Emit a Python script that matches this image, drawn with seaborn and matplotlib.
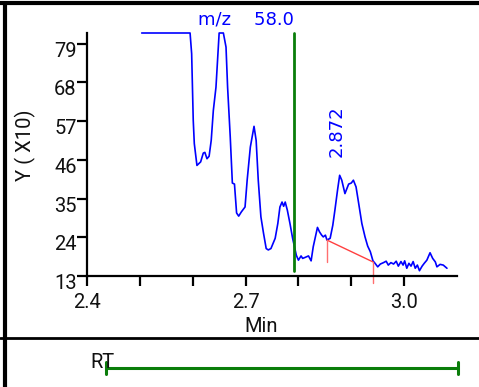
import matplotlib
matplotlib.use("Agg")
import matplotlib.pyplot as plt
import matplotlib.transforms as mtransforms
from matplotlib.lines import Line2D
import seaborn as sns
import pandas as pd
import numpy as np

# trace (retention time in min, intensity in Y x10)
rt = [2.5035, 2.595, 2.598, 2.601, 2.603, 2.608, 2.615, 2.620, 2.623, 2.627,
      2.631, 2.635, 2.639, 2.644, 2.650, 2.658, 2.663, 2.666, 2.671, 2.675,
      2.679, 2.683, 2.687, 2.692, 2.699, 2.703, 2.709, 2.716, 2.720, 2.724,
      2.729, 2.734, 2.739, 2.743, 2.748, 2.756, 2.761, 2.765, 2.769, 2.772,
      2.775, 2.779, 2.784, 2.789, 2.796, 2.800, 2.805, 2.808, 2.813, 2.819,
      2.824, 2.828, 2.836, 2.840, 2.844, 2.847, 2.851, 2.854, 2.860, 2.865,
      2.869, 2.874, 2.878, 2.882, 2.888, 2.895, 2.900, 2.904, 2.909, 2.914,
      2.920, 2.926, 2.931, 2.936, 2.941, 2.945, 2.950, 2.955, 2.961, 2.966,
      2.970, 2.975, 2.980, 2.985, 2.989, 2.994, 2.998, 3.001, 3.005, 3.009,
      3.013, 3.017, 3.021, 3.025, 3.029, 3.034, 3.038, 3.043, 3.049, 3.054,
      3.059, 3.062, 3.068, 3.074, 3.081]
intensity = [82.0, 82.0, 76.1, 57.2, 50.6, 44.4, 45.4, 47.9, 48.1, 46.3,
             47.0, 51.5, 60.0, 66.6, 82.0, 82.0, 78.0, 66.6, 52.5, 39.4,
             39.1, 30.9, 30.0, 31.2, 32.6, 40.2, 49.6, 55.5, 51.5, 40.2,
             29.8, 25.1, 20.8, 20.4, 20.8, 23.7, 27.9, 32.6, 34.0, 32.8,
             34.0, 31.7, 27.9, 23.7, 18.9, 17.5, 18.7, 18.0, 18.3, 18.7,
             17.3, 21.3, 26.8, 25.5, 24.6, 24.1, 24.6, 23.2, 23.7, 27.4,
             31.7, 37.4, 41.6, 40.2, 36.4, 39.1, 39.4, 40.2, 38.3, 33.6,
             27.9, 24.1, 21.5, 19.9, 17.3, 16.6, 15.6, 16.4, 16.8, 17.2,
             16.1, 16.8, 16.4, 17.2, 15.8, 17.1, 16.1, 17.3, 15.2, 16.6,
             15.8, 17.1, 15.2, 16.1, 14.5, 15.8, 16.6, 17.5, 19.6, 18.0,
             17.0, 15.6, 16.3, 16.1, 15.2]

mz_rt = 2.792          # green marker line
mz_label = "m/z    58.0"
peak_rt = 2.872
peak_label_y = 54.1
base_x = [2.854, 2.941]   # integration baseline
base_y = [23.2, 17.0]
base_drop = [17.1, 11.0]
rt_range = [2.436, 3.102]

y_ticks = [13, 24, 35, 46, 57, 68, 79]
x_ticks = [2.4, 2.5, 2.6, 2.7, 2.8, 2.9, 3.0]
x_ticklabels = ["2.4", "", "", "2.7", "", "", "3.0"]

df = pd.DataFrame({"rt": rt, "y": intensity})

sns.set_theme(style="white")
plt.rcParams["font.family"] = ["Roboto", "DejaVu Sans"]
txt_col = "#111111"

fig = plt.figure(figsize=(4.79, 3.87), dpi=100)
W, H = 479, 387
ax = fig.add_axes([87 / W, 1 - 276 / H, 370 / W, 243 / H])

sns.lineplot(data=df, x="rt", y="y", ax=ax, color="#0000ff", lw=1.2,
             estimator=None, sort=False, legend=False)
ax.lines[-1].set_clip_on(False)

# green m/z line
ax.plot([mz_rt, mz_rt], [14.4, 82], color="#0a7d0a", lw=2, clip_on=False)
ax.annotate(mz_label, (mz_rt, 82), xytext=(0, 3), textcoords="offset points",
            ha="right", va="bottom", color="#0000ff", fontsize=13,
            family="DejaVu Sans", annotation_clip=False)

# baseline of the integrated peak
ax.plot(base_x, base_y, color="#ff4040", lw=1)
for bx, by, bd in zip(base_x, base_y, base_drop):
    ax.plot([bx, bx], [by, bd], color="#ff6f6f", lw=1, clip_on=False)

ax.text(peak_rt, peak_label_y, f"{peak_rt:.3f}", rotation=90, ha="center",
        va="center", color="#0000ff", fontsize=13, family="DejaVu Sans")

ax.set_xlim(2.4, 3.1)
ax.set_ylim(13, 82)
ax.set_xticks(x_ticks)
ax.set_xticklabels(x_ticklabels)
ax.set_yticks(y_ticks)
ax.set_yticklabels([str(v) for v in y_ticks])
ax.set_xlabel("")
ax.set_ylabel("")
for s in ["top", "right"]:
    ax.spines[s].set_visible(False)
for s in ["left", "bottom"]:
    ax.spines[s].set_color("black")
    ax.spines[s].set_linewidth(1.6)
ax.tick_params(axis="both", colors="black", labelcolor=txt_col,
               labelsize=14.5, length=7.5, width=1.6, direction="out")
ax.tick_params(axis="y", pad=0)
ax.tick_params(axis="x", pad=5)
ax.tick_params(left=True, bottom=True)
shift = mtransforms.ScaledTranslation(0, -4 / 72, fig.dpi_scale_trans)
for lab in ax.get_yticklabels():
    lab.set_transform(lab.get_transform() + shift)

fig.text(25 / W, 1 - 145 / H, "Y ( X10)", rotation=90, ha="center",
         va="center", fontsize=14.5, color=txt_col)
fig.text(261 / W, 1 - 326 / H, "Min", ha="center", va="center",
         fontsize=14.5, color=txt_col)

# bottom RT panel
ax2 = fig.add_axes([87 / W, 0, 370 / W, 47 / H])
ax2.set_xlim(2.4, 3.1)
ax2.set_ylim(0, 1)
ax2.axis("off")
ax2.plot(rt_range, [0.4, 0.4], color="#0a7d0a", lw=2.2)
for r in rt_range:
    ax2.plot([r, r], [0.27, 0.53], color="#0a7d0a", lw=2.2, clip_on=False)
fig.text(102 / W, 1 - 363 / H, "RT", ha="center", va="center",
         fontsize=14.5, color=txt_col)

# frame lines of the report
fig.add_artist(Line2D([0, 1], [1 - 3 / H, 1 - 3 / H], color="black", lw=3))
fig.add_artist(Line2D([5 / W, 5 / W], [0, 1 - 3 / H], color="black", lw=3))
fig.add_artist(Line2D([0, 1], [1 - 338 / H, 1 - 338 / H], color="black",
                      lw=2))

fig.savefig("out.png", dpi=100)
